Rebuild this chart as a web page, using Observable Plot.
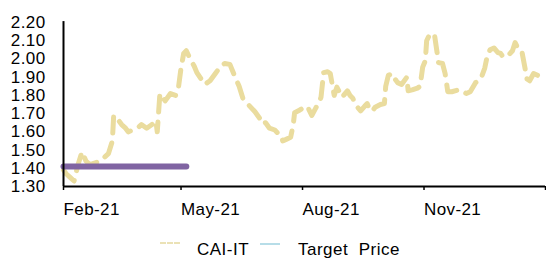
<!DOCTYPE html>
<html><head><meta charset="utf-8">
<script src="https://cdn.jsdelivr.net/npm/d3@7"></script>
<script src="https://cdn.jsdelivr.net/npm/@observablehq/plot@0.6"></script>
<style>
body{margin:0;background:#fff;font-family:"Liberation Sans",Arial,sans-serif;}
#wrap{position:relative;width:546px;height:258px;overflow:hidden;background:#fff;}
.lgline{position:absolute;height:0;}
.lgtext{position:absolute;font-size:17px;line-height:17px;letter-spacing:0.5px;color:#000;white-space:pre;}
</style></head>
<body><div id="wrap"><div id="chart"></div>
<div class="lgline" style="left:160px;top:242px;width:20px;border-top:2px dashed #EBE2B6;"></div>
<div class="lgtext" style="left:197px;top:241px;">CAI-IT</div>
<div class="lgline" style="left:260px;top:243px;width:20px;border-top:2px solid #B7DDE8;"></div>
<div class="lgtext" style="left:298px;top:241px;">Target  Price</div>
</div>
<script>
const priceDates = ["2021-02-01","2021-02-03","2021-02-06","2021-02-09","2021-02-12","2021-02-15","2021-02-18","2021-02-21","2021-02-25","2021-03-01","2021-03-04","2021-03-07","2021-03-10","2021-03-11","2021-03-14","2021-03-17","2021-03-20","2021-03-22","2021-03-29","2021-04-01","2021-04-05","2021-04-09","2021-04-12","2021-04-13","2021-04-15","2021-04-16","2021-04-19","2021-04-23","2021-04-27","2021-04-29","2021-05-01","2021-05-03","2021-05-05","2021-05-08","2021-05-11","2021-05-13","2021-05-19","2021-05-23","2021-05-27","2021-05-31","2021-06-03","2021-06-07","2021-06-11","2021-06-14","2021-06-17","2021-06-26","2021-06-30","2021-07-01","2021-07-04","2021-07-07","2021-07-11","2021-07-13","2021-07-16","2021-07-17","2021-07-20","2021-07-23","2021-07-25","2021-07-26","2021-07-30","2021-08-03","2021-08-05","2021-08-08","2021-08-11","2021-08-14","2021-08-15","2021-08-17","2021-08-20","2021-08-22","2021-08-24","2021-08-25","2021-08-27","2021-08-31","2021-09-04","2021-09-06","2021-09-08","2021-09-11","2021-09-14","2021-09-17","2021-09-19","2021-09-21","2021-09-23","2021-09-25","2021-09-29","2021-10-02","2021-10-03","2021-10-05","2021-10-08","2021-10-10","2021-10-12","2021-10-15","2021-10-19","2021-10-20","2021-10-23","2021-10-27","2021-10-29","2021-10-31","2021-11-02","2021-11-03","2021-11-05","2021-11-08","2021-11-09","2021-11-12","2021-11-15","2021-11-17","2021-11-19","2021-11-22","2021-11-27","2021-11-30","2021-12-03","2021-12-06","2021-12-10","2021-12-14","2021-12-17","2021-12-19","2021-12-21","2021-12-24","2021-12-27","2021-12-29","2021-12-31","2022-01-04","2022-01-07","2022-01-09","2022-01-11","2022-01-14","2022-01-17","2022-01-18","2022-01-20","2022-01-23","2022-01-26","2022-01-28","2022-01-30"];
const priceValues = [1.39,1.37,1.35,1.33,1.42,1.49,1.44,1.42,1.43,1.44,1.46,1.48,1.55,1.69,1.67,1.64,1.62,1.60,1.62,1.64,1.62,1.64,1.66,1.60,1.81,1.80,1.77,1.81,1.80,1.84,1.95,2.03,2.045,2.00,1.96,1.925,1.86,1.88,1.92,1.96,1.975,1.97,1.90,1.85,1.78,1.71,1.67,1.645,1.65,1.62,1.61,1.595,1.58,1.55,1.56,1.57,1.64,1.705,1.72,1.74,1.735,1.69,1.73,1.77,1.79,1.925,1.93,1.92,1.84,1.80,1.845,1.79,1.825,1.80,1.785,1.74,1.715,1.74,1.755,1.72,1.715,1.735,1.75,1.755,1.85,1.91,1.92,1.89,1.87,1.86,1.90,1.825,1.83,1.84,1.85,1.955,1.99,2.10,2.13,2.14,2.13,1.98,1.975,1.92,1.82,1.82,1.83,1.825,1.81,1.82,1.87,1.89,1.95,2.02,2.05,2.06,2.035,2.03,2.01,2.02,2.045,2.09,2.06,2.045,1.93,1.89,1.88,1.92,1.91,1.92,1.90];
const targetDates = ["2021-02-01","2021-05-05"];
const targetValues = [1.41,1.41];
const xTickDates = ["2021-02-01","2021-05-01","2021-08-01","2021-11-01","2022-02-01"];
const xTickLabels = ["Feb-21","May-21","Aug-21","Nov-21",""];
const yTicks = [1.30,1.40,1.50,1.60,1.70,1.80,1.90,2.00,2.10,2.20];

const parse = d3.utcParse("%Y-%m-%d");
const prices = priceDates.map((d,i)=>({date:parse(d), value:priceValues[i]}));
const target = targetDates.map((d,i)=>({date:parse(d), value:targetValues[i]}));
const xt = xTickDates.map(parse);
const labelOf = new Map(xt.map((d,i)=>[+d, xTickLabels[i]]));

const chart = Plot.plot({
  width:546, height:230,
  marginLeft:63, marginRight:1, marginTop:22, marginBottom:44,
  style:{fontFamily:'"Liberation Sans", Arial, sans-serif', fontSize:"17px", background:"#fff", color:"#000", letterSpacing:"0.4px"},
  x:{type:"utc", domain:[xt[0], xt[4]]},
  y:{domain:[1.30,2.20]},
  marks:[
    Plot.axisY({ticks:yTicks, tickFormat:d3.format(".2f"), tickSize:0, tickPadding:18, fontSize:17, label:null}),
    Plot.axisX({ticks:xt, tickFormat:d=>labelOf.get(+d), tickSize:4, tickPadding:12, textAnchor:"start", fontSize:17, label:null, strokeWidth:1.5}),
    Plot.lineY(prices,{x:"date", y:"value", stroke:"#EADC9E", strokeWidth:5, strokeDasharray:"16,10", strokeLinecap:"round", strokeLinejoin:"round"}),
    Plot.lineY(target,{x:"date", y:"value", stroke:"#8064A2", strokeWidth:6, strokeLinecap:"round"}),
    Plot.ruleY([1.30],{stroke:"#000", strokeWidth:2}),
    Plot.ruleX([xt[0]],{y1:1.30, y2:2.205, stroke:"#000", strokeWidth:2})
  ]
});
document.getElementById("chart").appendChild(chart);
</script>
</body></html>
